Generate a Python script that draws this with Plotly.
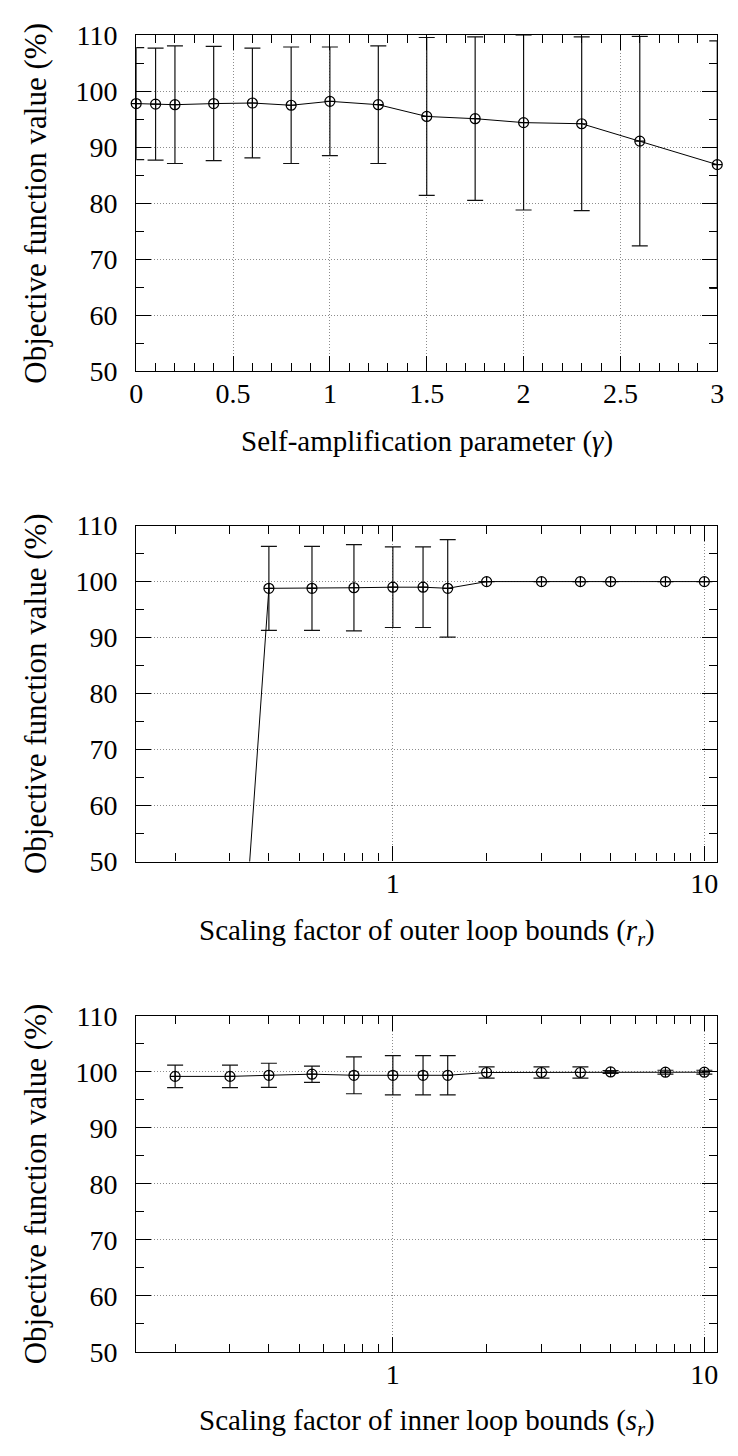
import math
import plotly.graph_objects as go

# Panel 1: self-amplification parameter sweep
gamma = [0, 0.1, 0.2, 0.4, 0.6, 0.8, 1.0, 1.25, 1.5, 1.75, 2.0, 2.3, 2.6, 3.0]
gamma_mean = [97.8, 97.7, 97.6, 97.8, 97.9, 97.5, 98.2, 97.6, 95.5, 95.1, 94.4, 94.2, 91.1, 86.9]
gamma_err = [10.0, 10.0, 10.5, 10.2, 9.8, 10.4, 9.7, 10.5, 14.1, 14.6, 15.6, 15.5, 18.7, 22.1]

# Panel 2: outer loop bound scaling
r_r = [0.2, 0.3, 0.4, 0.55, 0.75, 1, 1.25, 1.5, 2, 3, 4, 5, 7.5, 10]
r_mean = [0, 0, 98.8, 98.8, 98.9, 99.0, 99.0, 98.8, 100, 100, 100, 100, 100, 100]
r_err = [0, 0, 7.5, 7.5, 7.7, 7.2, 7.2, 8.7, 0, 0, 0, 0, 0, 0]

# Panel 3: inner loop bound scaling
s_r = [0.2, 0.3, 0.4, 0.55, 0.75, 1, 1.25, 1.5, 2, 3, 4, 5, 7.5, 10]
s_mean = [99.2, 99.2, 99.4, 99.6, 99.4, 99.4, 99.4, 99.4, 99.9, 99.9, 99.9, 100.0, 99.95, 99.95]
s_err = [2.0, 2.0, 2.15, 1.45, 3.3, 3.5, 3.5, 3.5, 1.0, 1.0, 1.0, 0.25, 0.35, 0.35]

y_ticks = [50, 60, 70, 80, 90, 100, 110]
y_minor = [55, 65, 75, 85, 95, 105]
gamma_ticks = [0, 0.5, 1, 1.5, 2, 2.5, 3]
gamma_tick_text = ["0", "0.5", "1", "1.5", "2", "2.5", "3"]
gamma_minor = [round(0.1 * i, 1) for i in range(31) if i % 5]
log_ticks = [1, 10]
log_tick_text = ["1", "10"]
log_minor = [0.2, 0.3, 0.4, 0.5, 0.6, 0.7, 0.8, 0.9, 2, 3, 4, 5, 6, 7, 8, 9]

titles_x = [
    "Self-amplification parameter (<i>γ</i>)",
    "Scaling factor of outer loop bounds (<i>r<sub>r</sub></i>)",
    "Scaling factor of inner loop bounds (<i>s<sub>r</sub></i>)",
]
title_y = "Objective function value (%)"

W, H = 738, 1456
FONT = "Liberation Serif"
left_px, right_px = 131.7, 724.0
panels_px = [(20.7, 364.0), (521.7, 865.0), (1022.7, 1366.0)]

fig = go.Figure()

series = [
    (gamma, gamma_mean, gamma_err, False),
    (r_r, r_mean, r_err, True),
    (s_r, s_mean, s_err, True),
]

for i, (xs, ys, es, clip) in enumerate(series):
    suffix = "" if i == 0 else str(i + 1)
    fig.add_trace(go.Scatter(
        x=xs, y=ys,
        mode="lines+markers",
        line=dict(color="black", width=1),
        marker=dict(symbol="circle-cross-open", size=10, color="black",
                    line=dict(width=1.2, color="black")),
        error_y=dict(type="data", array=es, visible=True, color="#111111",
                     thickness=1.2, width=8),
        cliponaxis=clip,
        showlegend=False,
        xaxis="x" + suffix, yaxis="y" + suffix,
    ))

xdom = [left_px / W, right_px / W]
grid = dict(showgrid=True, gridcolor="#8c8c8c", griddash="1px,2px", gridwidth=1)
common = dict(
    showline=True, linecolor="black", linewidth=1.2, mirror="allticks",
    ticks="inside", ticklen=15, tickwidth=1.2, tickcolor="black",
    zeroline=False,
    tickfont=dict(family=FONT, size=28, color="black"),
    **grid,
)
minor_style = dict(ticklen=8, ticks="inside", tickcolor="black",
                   tickwidth=1.2, showgrid=False)

layout = dict(
    width=W, height=H,
    margin=dict(l=0, r=0, t=0, b=0),
    paper_bgcolor="white", plot_bgcolor="white",
    font=dict(family=FONT, color="black"),
    annotations=[],
)

for i, (top, bot) in enumerate(panels_px):
    suffix = "" if i == 0 else str(i + 1)
    ydom = [1 - bot / H, 1 - top / H]
    yax = dict(
        domain=ydom, range=[50, 110], tickmode="array", tickvals=y_ticks,
        ticktext=[str(v) for v in y_ticks],
        minor=dict(tickvals=y_minor, **minor_style),
        anchor="x" + suffix, ticklabelstandoff=12,
        **common,
    )
    if i == 0:
        xax = dict(
            domain=xdom, range=[0, 3], tickmode="array", tickvals=gamma_ticks,
            ticktext=gamma_tick_text,
            minor=dict(tickvals=gamma_minor, **minor_style),
            anchor="y" + suffix, ticklabelstandoff=-3,
            **common,
        )
    else:
        xax = dict(
            domain=xdom, type="log", range=[math.log10(0.15), math.log10(11)],
            tickmode="array", tickvals=log_ticks, ticktext=log_tick_text,
            minor=dict(tickvals=log_minor, **minor_style),
            anchor="y" + suffix, ticklabelstandoff=-3,
            **common,
        )
    layout["xaxis" + suffix] = xax
    layout["yaxis" + suffix] = yax

    # axis titles
    layout["annotations"].append(dict(
        text=titles_x[i], xref="paper", yref="paper",
        x=(xdom[0] + xdom[1]) / 2, y=1 - (bot + 72) / H,
        xanchor="center", yanchor="middle", showarrow=False,
        font=dict(family=FONT, size=29, color="black"),
    ))
    layout["annotations"].append(dict(
        text=title_y, xref="paper", yref="paper",
        x=29 / W, y=1 - (top + bot) / 2 / H, textangle=-90,
        xanchor="center", yanchor="middle", showarrow=False,
        font=dict(family=FONT, size=31, color="black"),
    ))

fig.update_layout(**layout)
fig.write_html("out.html")
